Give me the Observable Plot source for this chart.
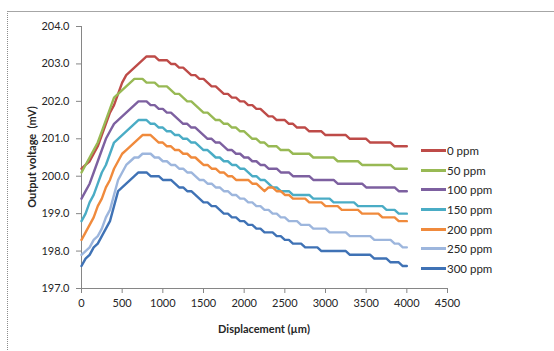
<!DOCTYPE html>
<html>
<head>
<meta charset="utf-8">
<script src="https://cdn.jsdelivr.net/npm/d3@7"></script>
<script src="https://cdn.jsdelivr.net/npm/@observablehq/plot@0.6"></script>
<style>
  html, body { margin: 0; padding: 0; background: #fff; }
  #wrap { position: relative; width: 554px; height: 351px; overflow: hidden; font-family: Lato, "Liberation Sans", sans-serif; color: #262626; }
  #frame { position: absolute; left: 7px; top: 11px; width: 560px; height: 360px; border-top: 1px solid #a6a6a6; border-left: 1px dotted #8c8c8c; }
  #chart { position: absolute; left: 0; top: 0; }
  .ylab { position: absolute; left: 31px; top: 157px; transform: translate(-50%, -50%) rotate(-90deg); font-weight: bold; font-size: 11px; white-space: pre; }
  .xlab { position: absolute; left: 264px; top: 328px; transform: translate(-50%, -50%); font-weight: bold; font-size: 11px; white-space: pre; }
  #legend { position: absolute; left: 421px; top: 141px; }
  .li { display: flex; align-items: center; height: 19.6px; font-size: 11.5px; }
  .li span.sw { display: inline-block; width: 25px; height: 3px; margin-right: 1px; }
</style>
</head>
<body>
<div id="wrap">
  <div id="frame"></div>
  <div id="chart"></div>
  <div class="ylab">Output voltage  (mV)</div>
  <div class="xlab">Displacement (µm)</div>
  <div id="legend"></div>
</div>
<script>
const seriesNames = ["0 ppm", "50 ppm", "100 ppm", "150 ppm", "200 ppm", "250 ppm", "300 ppm"];
const seriesColors = ["#BE4B48", "#98B954", "#7D60A0", "#4AACC5", "#F08A3C", "#9DB6DD", "#3F72B5"];
const xTicks = [0, 500, 1000, 1500, 2000, 2500, 3000, 3500, 4000, 4500];
const yTicks = [197, 198, 199, 200, 201, 202, 203, 204];

const displacement = [0,50,100,150,200,250,300,350,400,450,500,550,600,650,700,750,800,850,900,950,
  1000,1050,1100,1150,1200,1250,1300,1350,1400,1450,1500,1550,1600,1650,1700,1750,1800,1850,1900,1950,
  2000,2050,2100,2150,2200,2250,2300,2350,2400,2450,2500,2550,2600,2650,2700,2750,2800,2850,2900,2950,
  3000,3050,3100,3150,3200,3250,3300,3350,3400,3450,3500,3550,3600,3650,3700,3750,3800,3850,3900,3950,4000];

const ppm0 = [200.2,200.3,200.4,200.6,200.8,201.1,201.4,201.7,201.9,202.2,202.5,202.7,202.8,202.9,203.0,203.1,203.2,203.2,203.2,203.1,
  203.1,203.1,203.0,203.0,202.9,202.9,202.8,202.7,202.7,202.6,202.6,202.5,202.4,202.4,202.3,202.2,202.2,202.1,202.1,202.0,
  202.0,201.9,201.9,201.8,201.8,201.7,201.6,201.6,201.5,201.5,201.5,201.4,201.4,201.3,201.3,201.3,201.2,201.2,201.2,201.2,
  201.1,201.1,201.1,201.1,201.1,201.1,201.0,201.0,201.0,201.0,201.0,200.9,200.9,200.9,200.9,200.9,200.9,200.8,200.8,200.8,200.8];

const ppm50 = [200.1,200.3,200.5,200.7,200.9,201.2,201.5,201.8,202.1,202.2,202.3,202.4,202.5,202.6,202.6,202.6,202.5,202.5,202.5,202.4,
  202.4,202.4,202.3,202.2,202.2,202.1,202.0,202.0,201.9,201.8,201.7,201.7,201.6,201.5,201.5,201.4,201.4,201.3,201.3,201.2,
  201.2,201.1,201.0,201.0,200.9,200.9,200.8,200.8,200.8,200.7,200.7,200.7,200.6,200.6,200.6,200.6,200.6,200.5,200.5,200.5,
  200.5,200.5,200.5,200.4,200.4,200.4,200.4,200.4,200.4,200.3,200.3,200.3,200.3,200.3,200.3,200.3,200.3,200.2,200.2,200.2,200.2];

const ppm100 = [199.4,199.6,199.8,200.1,200.4,200.7,201.0,201.2,201.4,201.5,201.6,201.7,201.8,201.9,202.0,202.0,202.0,201.9,201.9,201.8,
  201.8,201.7,201.7,201.6,201.5,201.4,201.4,201.3,201.3,201.2,201.1,201.0,201.0,200.9,200.9,200.8,200.7,200.7,200.6,200.6,
  200.5,200.5,200.4,200.4,200.3,200.3,200.2,200.2,200.2,200.1,200.1,200.1,200.0,200.0,200.0,200.0,200.0,199.9,199.9,199.9,
  199.9,199.9,199.9,199.8,199.8,199.8,199.8,199.8,199.8,199.8,199.7,199.7,199.7,199.7,199.7,199.7,199.7,199.7,199.6,199.6,199.6];

const ppm150 = [198.8,199.0,199.3,199.5,199.8,200.1,200.3,200.6,200.9,201.0,201.1,201.2,201.3,201.4,201.5,201.5,201.5,201.4,201.4,201.3,
  201.3,201.2,201.2,201.1,201.1,201.0,201.0,200.9,200.9,200.8,200.7,200.7,200.6,200.5,200.5,200.4,200.4,200.3,200.3,200.2,
  200.2,200.1,200.0,200.0,199.9,199.9,199.8,199.7,199.7,199.6,199.6,199.6,199.5,199.5,199.5,199.5,199.5,199.4,199.4,199.4,
  199.4,199.4,199.3,199.3,199.3,199.3,199.3,199.3,199.2,199.2,199.2,199.2,199.2,199.2,199.2,199.1,199.1,199.1,199.0,199.0,199.0];

const ppm200 = [198.3,198.5,198.7,198.9,199.2,199.4,199.7,199.9,200.2,200.4,200.6,200.7,200.8,200.9,201.0,201.1,201.1,201.1,201.0,200.9,
  200.9,200.8,200.8,200.7,200.7,200.6,200.6,200.5,200.5,200.4,200.3,200.3,200.2,200.2,200.1,200.1,200.0,200.0,199.9,199.9,
  199.9,199.9,199.8,199.8,199.7,199.6,199.7,199.7,199.6,199.6,199.5,199.5,199.4,199.4,199.4,199.4,199.3,199.3,199.3,199.3,
  199.2,199.2,199.2,199.2,199.1,199.1,199.1,199.1,199.1,199.0,199.0,199.0,199.0,199.0,198.9,198.9,198.9,198.9,198.8,198.8,198.8];

const ppm250 = [197.9,198.0,198.1,198.3,198.4,198.6,198.9,199.1,199.5,199.9,200.1,200.3,200.4,200.5,200.5,200.6,200.6,200.6,200.5,200.5,
  200.4,200.4,200.3,200.3,200.2,200.2,200.1,200.1,200.0,199.9,199.9,199.8,199.8,199.7,199.7,199.6,199.6,199.5,199.5,199.4,
  199.4,199.3,199.3,199.2,199.2,199.1,199.1,199.0,199.0,198.9,198.9,198.8,198.8,198.8,198.7,198.7,198.7,198.6,198.6,198.6,
  198.6,198.5,198.5,198.5,198.5,198.5,198.4,198.4,198.4,198.4,198.4,198.4,198.3,198.3,198.3,198.3,198.3,198.2,198.2,198.1,198.1];

const ppm300 = [197.6,197.8,197.9,198.1,198.2,198.4,198.6,198.8,199.2,199.6,199.7,199.8,199.9,200.0,200.1,200.1,200.1,200.0,200.0,200.0,
  199.9,199.9,199.9,199.8,199.7,199.7,199.6,199.6,199.5,199.4,199.3,199.3,199.2,199.2,199.1,199.0,199.0,198.9,198.9,198.8,
  198.8,198.7,198.7,198.6,198.6,198.5,198.5,198.5,198.4,198.4,198.3,198.3,198.2,198.2,198.2,198.1,198.1,198.1,198.1,198.0,
  198.0,198.0,198.0,198.0,198.0,198.0,197.9,197.9,197.9,197.9,197.9,197.9,197.8,197.8,197.8,197.8,197.7,197.7,197.7,197.6,197.6];

const seriesValues = [ppm0, ppm50, ppm100, ppm150, ppm200, ppm250, ppm300];

const rows = [];
seriesValues.forEach((vals, si) => {
  vals.forEach((v, i) => rows.push({ s: seriesNames[si], d: displacement[i], v }));
});

const chart = Plot.plot({
  width: 554,
  height: 351,
  marginLeft: 81,
  marginRight: 107,
  marginTop: 26,
  marginBottom: 63,
  style: { fontFamily: "Lato, 'Liberation Sans', sans-serif", fontSize: "11px", color: "#262626", background: "transparent" },
  x: { domain: [0, 4500] },
  y: { domain: [197, 204] },
  color: { domain: seriesNames, range: seriesColors },
  marks: [
    Plot.axisX({ ticks: xTicks, tickSize: 5, tickPadding: 6, stroke: "#868686", label: null, tickFormat: d => String(d) }),
    Plot.axisY({ ticks: yTicks, tickSize: 5, tickPadding: 7, stroke: "#868686", label: null, tickFormat: d => d.toFixed(1) }),
    Plot.ruleX([0], { stroke: "#868686" }),
    Plot.ruleY([197], { stroke: "#868686" }),
    Plot.line(rows, { x: "d", y: "v", z: "s", stroke: "s", strokeWidth: 2.4, strokeLinejoin: "round", strokeLinecap: "round" })
  ]
});
document.getElementById("chart").appendChild(chart);

const legend = document.getElementById("legend");
seriesNames.forEach((n, i) => {
  const row = document.createElement("div");
  row.className = "li";
  const sw = document.createElement("span");
  sw.className = "sw";
  sw.style.background = seriesColors[i];
  row.appendChild(sw);
  const t = document.createElement("span");
  t.textContent = n;
  row.appendChild(t);
  legend.appendChild(row);
});
</script>
</body>
</html>
